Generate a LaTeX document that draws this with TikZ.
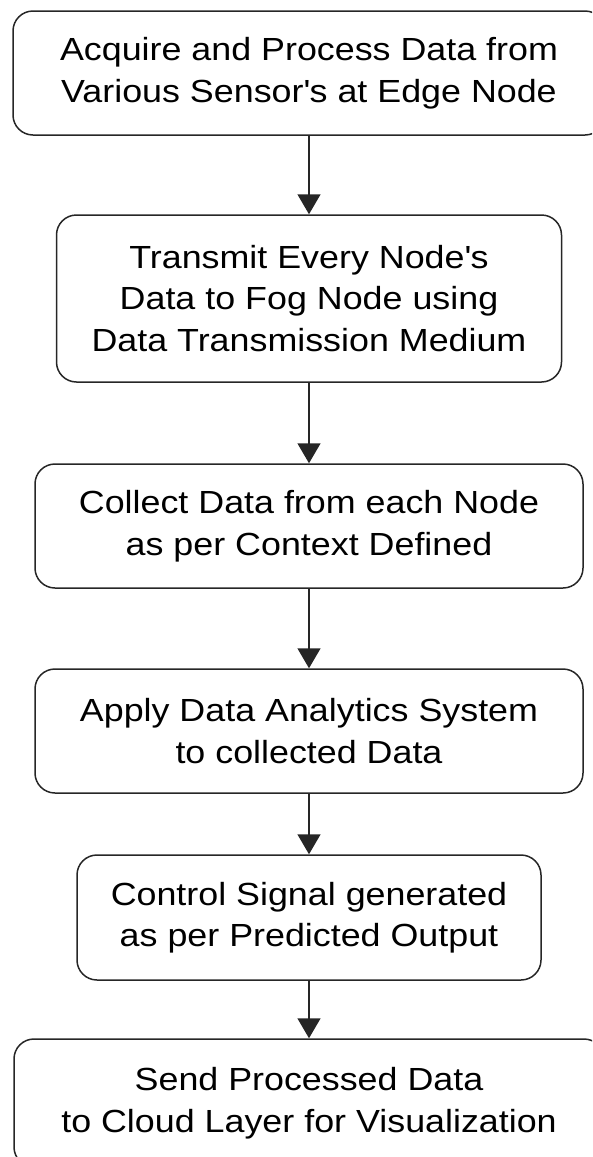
\documentclass[tikz,border=0pt]{standalone}
\usepackage{fontspec}
\setmainfont[FakeStretch=1.12]{Liberation Sans}
\usetikzlibrary{arrows.meta}
\begin{document}
\begin{tikzpicture}[x=1pt,y=-1pt,
  stepbox/.style={draw=black!85, line width=1.5pt, rounded corners=20pt,
    align=center, inner sep=0pt, font=\fontsize{32}{41.5}\selectfont},
  flow/.style={draw=black!85, line width=1.5pt, -{Triangle[length=20pt,width=23pt]}}]
\useasboundingbox (0,0) rectangle (592,1157);
\clip (0,0) rectangle (592,1157);
\node[stepbox, minimum width=592pt, minimum height=124pt] (b1) at (309,73)
  {Acquire and Process Data from\\Various Sensor\textquotesingle s at Edge Node};
\node[stepbox, minimum width=505pt, minimum height=167pt] (b2) at (309,298.5)
  {Transmit Every Node\textquotesingle s\\Data to Fog Node using\\Data Transmission Medium};
\node[stepbox, minimum width=548pt, minimum height=124pt] (b3) at (309,526)
  {Collect Data from each Node\\as per Context Defined};
\node[stepbox, minimum width=548pt, minimum height=124pt] (b4) at (309,731)
  {Apply Data Analytics System\\to collected Data};
\node[stepbox, minimum width=464pt, minimum height=125pt] (b5) at (309,917.5)
  {Control Signal generated\\as per Predicted Output};
\node[stepbox, minimum width=590pt, minimum height=128pt] (b6) at (309,1103)
  {Send Processed Data\\to Cloud Layer for Visualization};
\draw[flow] (b1) -- (b2);
\draw[flow] (b2) -- (b3);
\draw[flow] (b3) -- (b4);
\draw[flow] (b4) -- (b5);
\draw[flow] (b5) -- (b6);
\end{tikzpicture}
\end{document}
